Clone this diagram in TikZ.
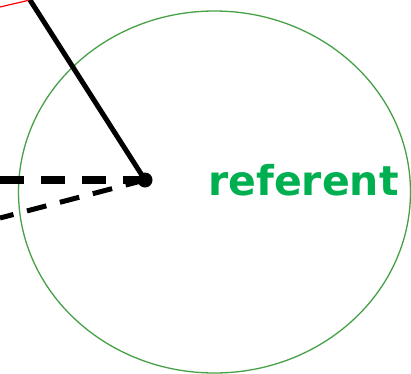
\documentclass[tikz,border=0pt]{standalone}
\usepackage{fontspec}
\setmainfont{DejaVu Sans}
\definecolor{circgreen}{RGB}{70,160,70}
\definecolor{txtgreen}{RGB}{0,176,80}
\begin{document}
\begin{tikzpicture}[x=1pt,y=1pt,
  solidline/.style={line width=5pt},
  dashline/.style={line width=7.5pt, dash pattern=on 24pt off 17pt},
  dashline2/.style={line width=5pt, dash pattern=on 20pt off 14pt}]
\useasboundingbox (0,0) rectangle (411,373);
\draw[circgreen, line width=1.3pt] (214.5,181) ellipse [x radius=196, y radius=181];
\node[circle, fill=black, inner sep=0pt, minimum size=15pt] (c) at (145,193) {};
\coordinate (top) at (30,373);
\coordinate (redl) at (0,366);
\coordinate (hl) at (0,193);
\coordinate (dl) at (0,155);
\draw[red, line width=1.2pt] (redl) -- (top);
\draw[solidline] (c.center) -- (top);
\draw[dashline] (hl) -- (c.center);
\draw[dashline2] (c.center) -- (dl);
\node[text=txtgreen, font=\bfseries\fontsize{41}{41}\selectfont, anchor=base west, inner sep=0pt] (ref) at (208,178) {referent};
\end{tikzpicture}
\end{document}
